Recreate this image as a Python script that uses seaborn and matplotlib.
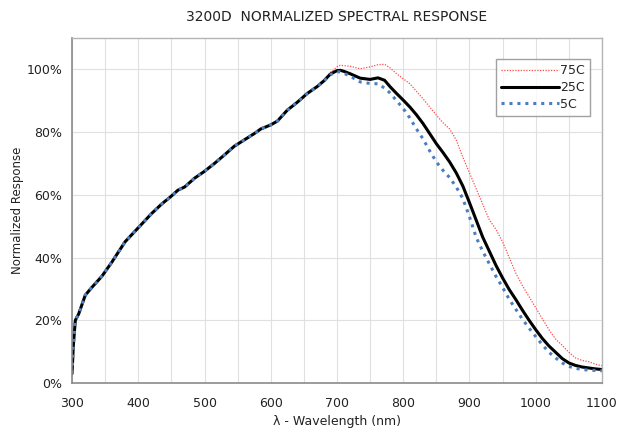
import pandas as pd
import matplotlib.pyplot as plt
import seaborn as sns
from matplotlib.ticker import PercentFormatter, MultipleLocator

# ----------------------------------------------------------- data
wavelength = [300, 302, 305, 310, 320, 330, 345, 360, 380, 400, 420, 435, 450, 460, 470,
              485, 500, 515, 530, 545, 560, 575, 585, 600, 610, 625, 640, 655, 670, 680,
              690, 700, 705, 710, 720, 735, 750, 762, 772, 780, 790, 800, 810, 820, 830,
              840, 850, 860, 870, 880, 890, 900, 910, 920, 930, 940, 950, 960, 970, 980,
              990, 1000, 1010, 1020, 1030, 1040, 1050, 1060, 1070, 1080, 1090, 1100]

resp_75c = [3, 12, 20, 22, 28, 30.5, 34, 38.5, 45, 49.5, 54, 57, 59.6, 61.5, 62.5,
            65.3, 67.5, 70, 72.7, 75.5, 77.5, 79.5, 81, 82.3, 83.5, 87, 89.5, 92.3, 94.5, 96.5,
            99, 100.8, 101.3, 101.2, 101, 100.2, 100.8, 101.5, 101.6, 100.5, 98.6, 97, 95.4, 93, 90.6,
            88, 85.4, 83, 81, 77.5, 72, 67, 62, 57, 52, 49, 45, 40, 35, 31,
            27.5, 24, 20.5, 17, 14, 12, 9.8, 8, 7.2, 6.8, 6, 5.5]

resp_25c = [3, 12, 20, 22, 28, 30.5, 34, 38.5, 45, 49.5, 54, 57, 59.6, 61.5, 62.5,
            65.3, 67.5, 70, 72.7, 75.5, 77.5, 79.5, 81, 82.3, 83.5, 87, 89.5, 92.3, 94.5, 96.3,
            98.5, 99.6, 99.7, 99.4, 98.6, 97.2, 96.8, 97.3, 96.5, 94.5, 92.3, 90.2, 88, 85.5, 82.7,
            79.5, 76.3, 73.5, 70.5, 67, 62.8, 57.5, 52, 46.5, 42, 37.5, 33.5, 29.8, 26.6, 23.2,
            20, 17, 14.2, 11.8, 9.8, 7.8, 6.4, 5.6, 5.1, 4.8, 4.5, 4.3]

resp_5c = [3, 12, 20, 22, 28, 30.5, 34, 38.5, 45, 49.5, 54, 57, 59.6, 61.5, 62.5,
           65.3, 67.5, 70, 72.7, 75.5, 77.5, 79.5, 81, 82.3, 83.5, 87, 89.5, 92.3, 94.5, 96.2,
           98.3, 99.2, 99.2, 98.8, 97.8, 96, 95.5, 95.4, 94, 92.5, 90, 87.5, 84.5, 81, 77.8,
           74, 70.5, 67.8, 65.5, 62.5, 58.8, 53, 46.5, 42, 38, 34, 30.5, 26.7, 23.5, 20.3,
           17.5, 14.8, 12.2, 9.8, 8, 6.4, 5.3, 4.7, 4.3, 4.1, 4, 3.9]

series_names = ['75C', '25C', '5C']
x_ticks = [300, 400, 500, 600, 700, 800, 900, 1000, 1100]

# -----------------------------------------------------------
sns.set_style('white')
plt.rcParams['font.family'] = ['DejaVu Sans']

df = pd.DataFrame({'wavelength': wavelength,
                   '75C': resp_75c, '25C': resp_25c, '5C': resp_5c})

fig = plt.figure(figsize=(6.29, 4.42), dpi=100)
ax = fig.add_axes([0.1145, 0.1335, 0.8425, 0.7805])

styles = {
    '75C': dict(color='#ff4a4a', linestyle=(0, (1, 1.2)), linewidth=0.9),
    '25C': dict(color='black', linestyle='-', linewidth=2.2),
    '5C': dict(color='#4a7ebf', linestyle=(0, (1, 1.6)), linewidth=2.2),
}
for name in series_names:
    sns.lineplot(data=df, x='wavelength', y=name, ax=ax, label=name, **styles[name])

ax.set_xlim(300, 1100)
ax.set_ylim(0, 110)
ax.set_xticks(x_ticks)
ax.xaxis.set_minor_locator(MultipleLocator(50))
ax.set_yticks([0, 20, 40, 60, 80, 100])
ax.yaxis.set_major_formatter(PercentFormatter(decimals=0))

ax.grid(True, which='both', axis='x', color='#e0e0e0', linewidth=0.8)
ax.grid(True, which='major', axis='y', color='#e0e0e0', linewidth=0.8)
ax.set_axisbelow(True)

for side in ['left', 'bottom']:
    ax.spines[side].set_color('#8a8a8a')
    ax.spines[side].set_linewidth(1.2)
for side in ['top', 'right']:
    ax.spines[side].set_color('#b4b4b4')
    ax.spines[side].set_linewidth(1.0)

ax.tick_params(axis='both', which='major', direction='out', length=4, width=1,
               color='#8a8a8a', labelsize=9, labelcolor='#222222', pad=3)
ax.tick_params(axis='x', which='minor', length=0)
ax.tick_params(axis='x', which='major', pad=6)

ax.set_title('3200D  NORMALIZED SPECTRAL RESPONSE', fontsize=10, color='#222222', pad=12)
ax.set_xlabel('λ - Wavelength (nm)', fontsize=9, color='#222222', labelpad=4)
ax.set_ylabel('Normalized Response', fontsize=8.5, color='#222222', labelpad=2)

leg = ax.legend(loc='upper right', bbox_to_anchor=(0.978, 0.94), fancybox=False,
                frameon=True, edgecolor='#8a8a8a', fontsize=9, handlelength=4.6,
                handletextpad=0.1, borderpad=0.45, labelspacing=0.3, borderaxespad=0)
leg.get_frame().set_linewidth(1.0)

fig.savefig('out.png', dpi=100)
